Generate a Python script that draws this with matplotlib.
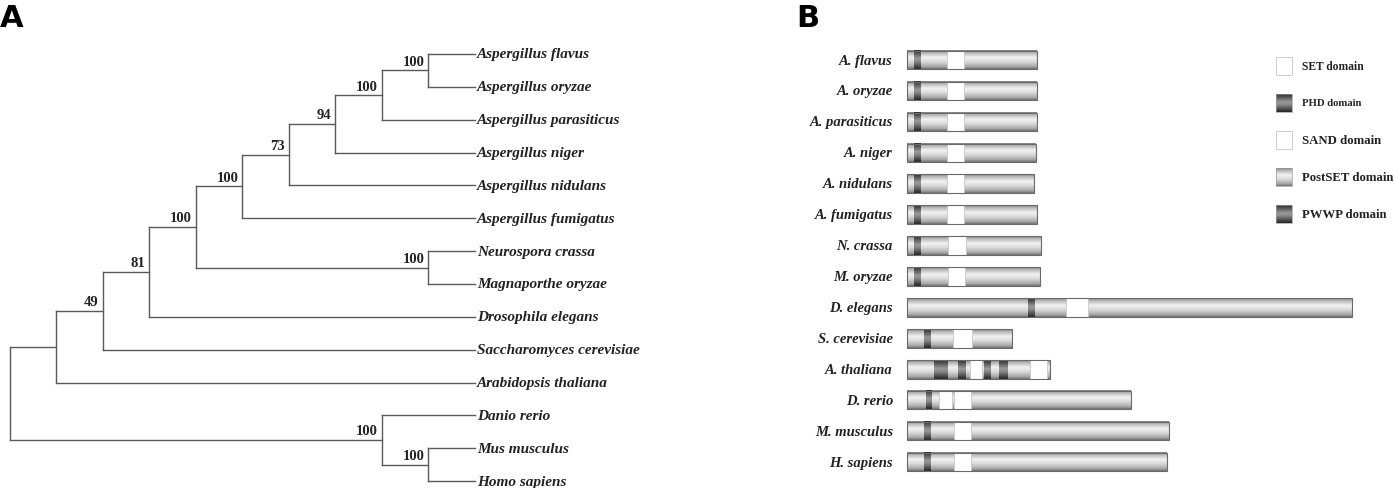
import numpy as np
import matplotlib
matplotlib.use("Agg")
import matplotlib.pyplot as plt
from matplotlib.colors import LinearSegmentedColormap
from matplotlib.patches import Rectangle

# ---------------- DATA ----------------

# Panel A: cladogram with bootstrap support (internal node names)
tree_newick = (
    "((((((((((Aspergillus flavus,Aspergillus oryzae)100,Aspergillus parasiticus)100,"
    "Aspergillus niger)94,Aspergillus nidulans)73,Aspergillus fumigatus)100,"
    "(Neurospora crassa,Magnaporthe oryzae)100)100,Drosophila elegans)81,"
    "Saccharomyces cerevisiae)49,Arabidopsis thaliana),"
    "(Danio rerio,(Mus musculus,Homo sapiens)100)100)"
)

# Panel B: domain architecture (arbitrary length units)
short_names = ["A. flavus", "A. oryzae", "A. parasiticus", "A. niger", "A. nidulans",
               "A. fumigatus", "N. crassa", "M. oryzae", "D. elegans", "S. cerevisiae",
               "A. thaliana", "D. rerio", "M. musculus", "H. sapiens"]
protein_len = [130, 130, 130, 129, 127, 130, 134, 133, 445, 105, 143, 224, 262, 260]
domains = [
    [("PHD", 7, 14), ("SET", 40, 57)],
    [("PHD", 7, 14), ("SET", 40, 57)],
    [("PHD", 7, 14), ("SET", 40, 57)],
    [("PHD", 7, 14), ("SET", 40, 57)],
    [("PHD", 7, 14), ("SET", 40, 57)],
    [("PHD", 7, 14), ("SET", 40, 57)],
    [("PHD", 7, 14), ("SET", 41, 59)],
    [("PHD", 7, 14), ("SET", 41, 58)],
    [("PHD", 121, 128), ("SET", 159, 181)],
    [("PHD", 17, 24), ("SET", 46, 65)],
    [("PWWP", 27, 41), ("PHD", 51, 59), ("SAND", 63, 75), ("PHD", 77, 84),
     ("PHD", 92, 101), ("SET", 123, 140)],
    [("PHD", 19, 25), ("SAND", 32, 45), ("SET", 47, 64)],
    [("PHD", 17, 24), ("SET", 47, 64)],
    [("PHD", 17, 24), ("SET", 47, 64)],
]
legend_types = ["SET", "PHD", "SAND", "PostSET", "PWWP"]

# ---------------- STYLE ----------------

serif = ["Liberation Serif", "DejaVu Serif"]
line_col = "#5a5a5a"
text_col = "#222222"

gray_cmap = LinearSegmentedColormap.from_list(
    "bar", [(0, "#7e7e7e"), (0.12, "#b4b4b4"), (0.38, "#f2f2f2"),
            (0.6, "#dcdcdc"), (0.88, "#a8a8a8"), (1, "#707070")])
dark_cmap = LinearSegmentedColormap.from_list(
    "dark", [(0, "#2e2e2e"), (0.45, "#9a9a9a"), (0.6, "#888888"), (1, "#262626")])

fig = plt.figure(figsize=(13.94, 4.89), dpi=100)

# ---------------- PANEL A: TREE ----------------

def parse_newick(s):
    pos = 0

    def node():
        nonlocal pos
        children = []
        if s[pos] == "(":
            pos += 1
            children.append(node())
            while s[pos] == ",":
                pos += 1
                children.append(node())
            pos += 1
        start = pos
        while pos < len(s) and s[pos] not in ",();":
            pos += 1
        return {"children": children, "name": s[start:pos]}

    return node()


root = parse_newick(tree_newick)
leaf_counter = [0]


def layout(n):
    if not n["children"]:
        n["y"] = leaf_counter[0]
        leaf_counter[0] += 1
        n["h"] = 0
    else:
        for c in n["children"]:
            layout(c)
        n["y"] = (n["children"][0]["y"] + n["children"][-1]["y"]) / 2
        n["h"] = max(c["h"] for c in n["children"]) + 1


layout(root)
max_h = root["h"]

axA = fig.add_axes([0, 0, 700 / 1394, 1])


def draw(n):
    x = max_h - n["h"]
    if not n["children"]:
        axA.text(x + 0.04, n["y"], n["name"], ha="left", va="center",
                 fontsize=11, fontstyle="italic", fontweight="bold",
                 family=serif, color=text_col)
        return
    ys = [c["y"] for c in n["children"]]
    axA.plot([x, x], [min(ys), max(ys)], color=line_col, lw=1.0)
    for c in n["children"]:
        cx = max_h - c["h"]
        axA.plot([x, cx], [c["y"], c["y"]], color=line_col, lw=1.0)
        draw(c)
    if n["name"]:
        axA.annotate(n["name"], xy=(x, n["y"]), xytext=(-3, 4),
                     textcoords="offset points", ha="right", va="baseline",
                     fontsize=10.5, fontweight="bold", family=serif, color=text_col)


draw(root)
axA.set_xlim(-0.215, 14.84)
axA.set_ylim(13.21, -1.674)
axA.axis("off")

# ---------------- PANEL B: DOMAINS ----------------

axB = fig.add_axes([800 / 1394, 0, 594 / 1394, 1])
bar_h = 0.6


def shaded_box(ax, x0, x1, yc, h, kind):
    top, bot = yc - h / 2, yc + h / 2
    if kind in ("SET", "SAND"):
        ax.add_patch(Rectangle((x0, top), x1 - x0, h, facecolor="white",
                               edgecolor="#c8c8c8", lw=0.6, zorder=3))
        return
    cmap = dark_cmap if kind in ("PHD", "PWWP") else gray_cmap
    grad = np.linspace(0, 1, 64).reshape(-1, 1)
    ax.imshow(grad, extent=(x0, x1, bot, top), aspect="auto", cmap=cmap,
              interpolation="bilinear", zorder=2)


for i, name in enumerate(short_names):
    L = protein_len[i]
    shaded_box(axB, 0, L, i, bar_h, "PostSET")
    for kind, s, e in domains[i]:
        shaded_box(axB, s, e, i, bar_h, kind)
    axB.add_patch(Rectangle((0, i - bar_h / 2), L, bar_h, fill=False,
                            edgecolor="#6a6a6a", lw=0.8, zorder=4))
    axB.text(-14, i, name, ha="right", va="center", fontsize=10.5,
             fontstyle="italic", fontweight="bold", family=serif, color=text_col)

# legend
legend_sizes = [8.3, 7.7, 9.2, 9.2, 9.2]
for k, kind in enumerate(legend_types):
    yc = 0.19 + 1.2 * k
    shaded_box(axB, 369, 385, yc, 0.58, kind)
    if kind in ("PHD", "PWWP", "PostSET"):
        axB.add_patch(Rectangle((369, yc - 0.29), 16, 0.58, fill=False,
                                edgecolor="#9a9a9a", lw=0.5, zorder=4))
    axB.text(395, yc, f"{kind} domain", ha="left", va="center",
             fontsize=legend_sizes[k], fontweight="bold", family=serif, color=text_col)

axB.set_xlim(-107, 487)
axB.set_ylim(13.84, -1.973)
axB.axis("off")

# panel letters
fig.text(0.0, 1 - 4 / 489, "A", ha="left", va="top", fontsize=22,
         fontweight="heavy", family="DejaVu Sans")
fig.text(796 / 1394, 1 - 4 / 489, "B", ha="left", va="top", fontsize=22,
         fontweight="heavy", family="DejaVu Sans")

fig.savefig("out.png", dpi=100)
